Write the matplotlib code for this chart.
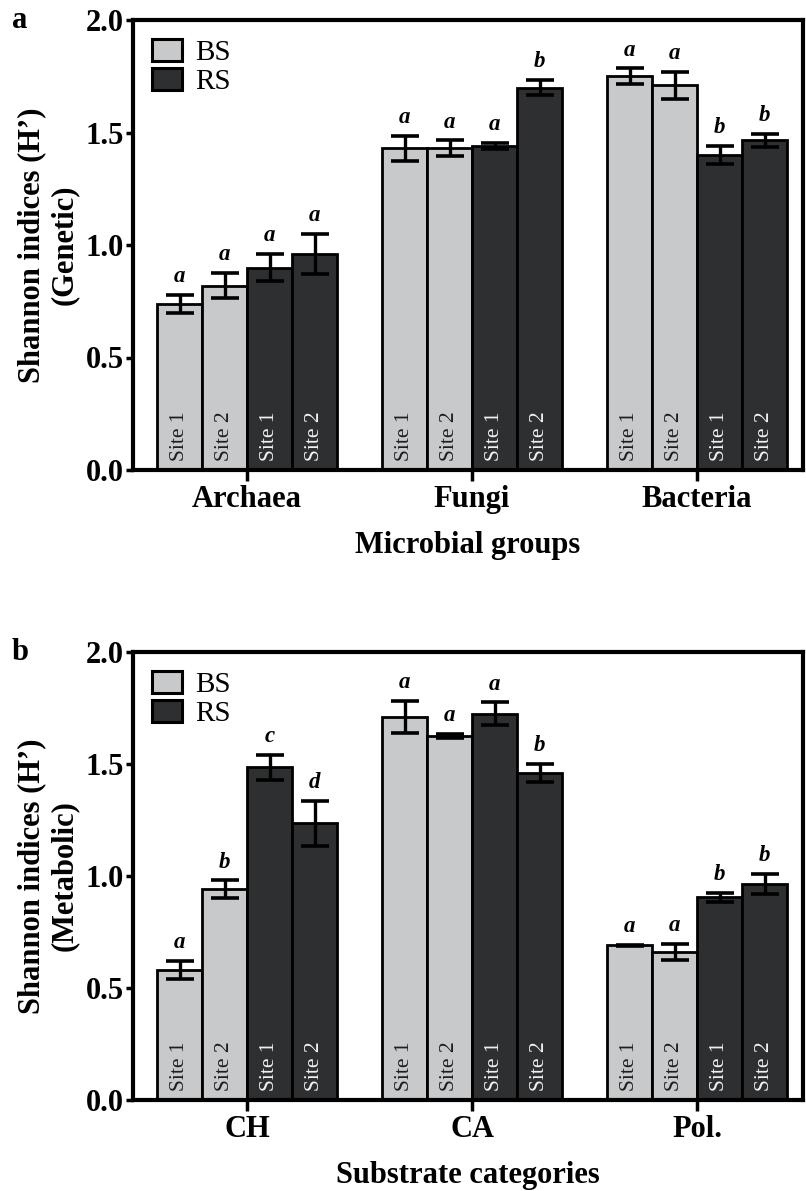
import matplotlib
matplotlib.use("Agg")
import matplotlib.pyplot as plt
from matplotlib.patches import Patch
import numpy as np

plt.rcParams['font.family'] = ['Liberation Serif', 'DejaVu Serif']

# ---------------- data ----------------
groups_a = ["Archaea", "Fungi", "Bacteria"]
groups_b = ["CH", "CA", "Pol."]
bar_labels = ["Site 1", "Site 2", "Site 1", "Site 2"]
bar_kind = ["BS", "BS", "RS", "RS"]

# panel a (Genetic): rows = groups, cols = BS site1, BS site2, RS site1, RS site2
vals_a = [[0.74, 0.82, 0.90, 0.96],
          [1.43, 1.43, 1.44, 1.70],
          [1.75, 1.71, 1.40, 1.465]]
errs_a = [[0.04, 0.055, 0.06, 0.09],
          [0.055, 0.035, 0.015, 0.035],
          [0.035, 0.06, 0.04, 0.03]]
sig_a = [["a", "a", "a", "a"],
         ["a", "a", "a", "b"],
         ["a", "a", "b", "b"]]

# panel b (Metabolic)
vals_b = [[0.58, 0.94, 1.485, 1.235],
          [1.71, 1.625, 1.725, 1.46],
          [0.69, 0.66, 0.905, 0.965]]
errs_b = [[0.04, 0.04, 0.055, 0.10],
          [0.07, 0.008, 0.05, 0.04],
          [0.003, 0.035, 0.02, 0.045]]
sig_b = [["a", "b", "c", "d"],
         ["a", "a", "a", "b"],
         ["a", "a", "b", "b"]]

yticks = [0.0, 0.5, 1.0, 1.5, 2.0]

LIGHT = "#c8c9cb"
DARK = "#2e2f31"
colors = {"BS": LIGHT, "RS": DARK}
txtcol = {"BS": "#1e1e1e", "RS": "#f2f2f2"}

W, H = 806, 1191
fig = plt.figure(figsize=(W / 100, H / 100), dpi=100)


def px_axes(l, t, r, b):
    return fig.add_axes([l / W, 1 - b / H, (r - l) / W, (b - t) / H])


def draw(ax, groups, vals, errs, sig, ylabel, xlabel):
    n = len(bar_labels)
    width = 0.2
    offsets = (np.arange(n) - (n - 1) / 2) * width
    x = np.arange(len(groups))
    for j in range(n):
        kind = bar_kind[j]
        v = [row[j] for row in vals]
        e = [row[j] for row in errs]
        ax.bar(x + offsets[j], v, width, color=colors[kind], edgecolor="black",
               linewidth=2.0, zorder=2)
        ax.errorbar(x + offsets[j], v, yerr=e, fmt="none", ecolor="black",
                    elinewidth=2.4, capsize=10, capthick=2.6, zorder=3)
        for gi in range(len(groups)):
            ax.text(x[gi] + offsets[j], 0.04, bar_labels[j], rotation=90,
                    ha="center", va="bottom", fontsize=15.5,
                    color=txtcol[kind], zorder=4)
            ax.text(x[gi] + offsets[j], v[gi] + e[gi] + 0.035, sig[gi][j],
                    ha="center", va="bottom", fontsize=16.5, fontweight="bold",
                    fontstyle="italic", zorder=4)
    ax.set_xlim(-0.507, 2.471)
    ax.set_ylim(0, 2.0)
    ax.set_yticks(yticks)
    ax.set_yticklabels([f"{t:.1f}" for t in yticks], fontsize=22, fontweight="bold")
    ax.set_xticks(x)
    ax.set_xticklabels(groups, fontsize=22, fontweight="bold")
    ax.tick_params(axis="y", direction="out", length=5, width=2.5, pad=1.5)
    ax.tick_params(axis="x", direction="out", length=8, width=2.5, pad=3)
    for s in ax.spines.values():
        s.set_linewidth(3.0)
    ax.set_ylabel(ylabel, fontsize=22, fontweight="bold", linespacing=1.15, labelpad=5)
    ax.set_xlabel(xlabel, fontsize=22, fontweight="bold", labelpad=12)
    handles = [Patch(facecolor=LIGHT, edgecolor="black", linewidth=2.2, label="BS"),
               Patch(facecolor=DARK, edgecolor="black", linewidth=2.2, label="RS")]
    ax.legend(handles=handles, loc="upper left", bbox_to_anchor=(0.028, 0.958),
              borderaxespad=0, borderpad=0, frameon=False, fontsize=21,
              handlelength=1.05, handleheight=0.8, handletextpad=0.45,
              labelspacing=0.05)


ax1 = px_axes(133, 20, 803, 470)
draw(ax1, groups_a, vals_a, errs_a, sig_a,
     "Shannon indices (H\u2019)\n(Genetic)", "Microbial groups")
ax2 = px_axes(133, 652, 803, 1100)
draw(ax2, groups_b, vals_b, errs_b, sig_b,
     "Shannon indices (H\u2019)\n(Metabolic)", "Substrate categories")

fig.text(12 / W, 1 - 6 / H, "a", fontsize=22, fontweight="bold", va="top", ha="left")
fig.text(12 / W, 1 - 638 / H, "b", fontsize=22, fontweight="bold", va="top", ha="left")

fig.savefig("out.png", dpi=100)
